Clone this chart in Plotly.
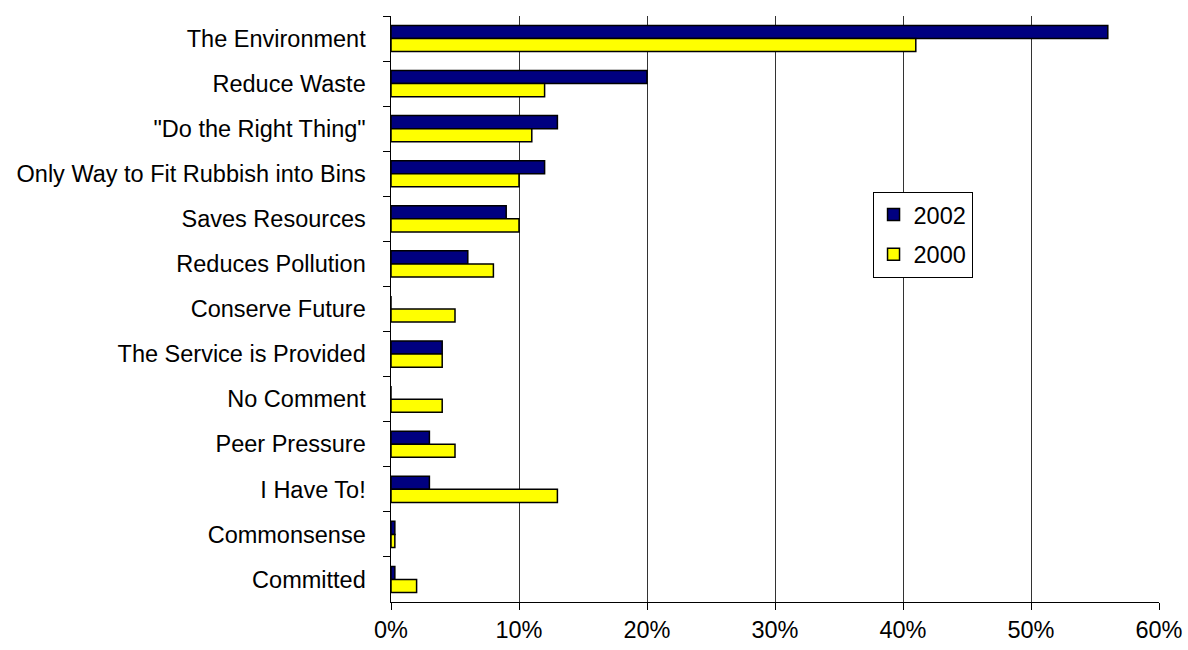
import plotly.graph_objects as go

categories = ["The Environment", "Reduce Waste", "\"Do the Right Thing\"",
              "Only Way to Fit Rubbish into Bins", "Saves Resources", "Reduces Pollution",
              "Conserve Future", "The Service is Provided", "No Comment", "Peer Pressure",
              "I Have To!", "Commonsense", "Committed"]
values_2002 = [0.56, 0.20, 0.13, 0.12, 0.09, 0.06, 0.0, 0.04, 0.0, 0.03, 0.03, 0.003, 0.003]
values_2000 = [0.41, 0.12, 0.11, 0.10, 0.10, 0.08, 0.05, 0.04, 0.04, 0.05, 0.13, 0.003, 0.02]
x_ticks = [0, 0.1, 0.2, 0.3, 0.4, 0.5, 0.6]
x_tick_labels = ["0%", "10%", "20%", "30%", "40%", "50%", "60%"]

fig = go.Figure()
fig.add_trace(go.Bar(y=categories, x=values_2002, name="2002", orientation="h",
                     legendgroup="g2002",
                     marker=dict(color="#000080", line=dict(color="black", width=1.5))))
fig.add_trace(go.Bar(y=categories, x=values_2000, name="2000", orientation="h",
                     legendgroup="g2000",
                     marker=dict(color="#FFFF00", line=dict(color="black", width=1.5))))

fig.update_layout(
    width=1188, height=650,
    margin=dict(l=391, r=29, t=16, b=48, autoexpand=False),
    plot_bgcolor="white", paper_bgcolor="white",
    barmode="group", bargap=0.42, bargroupgap=0,
    font=dict(family="Liberation Sans, Arial, sans-serif", size=23.5, color="black"),
    showlegend=True,
    legend=dict(x=0.627, y=0.70, xanchor="left", yanchor="top",
                bgcolor="white", bordercolor="black", borderwidth=1,
                font=dict(size=23.5), itemwidth=30, tracegroupgap=6),
    xaxis=dict(range=[0, 0.6], tickvals=x_ticks, ticktext=x_tick_labels,
               showgrid=True, gridcolor="#333333", gridwidth=1,
               showline=True, linecolor="black", linewidth=1, automargin=False,
               ticks="outside", ticklen=7, tickcolor="black", zeroline=False),
    yaxis=dict(autorange="reversed", type="category", tickson="boundaries",
               showline=True, linecolor="black", linewidth=1, automargin=False,
               ticks="outside", ticklen=7, tickcolor="black",
               showgrid=False, ticksuffix="   "),
)

fig.write_html("out.html")
